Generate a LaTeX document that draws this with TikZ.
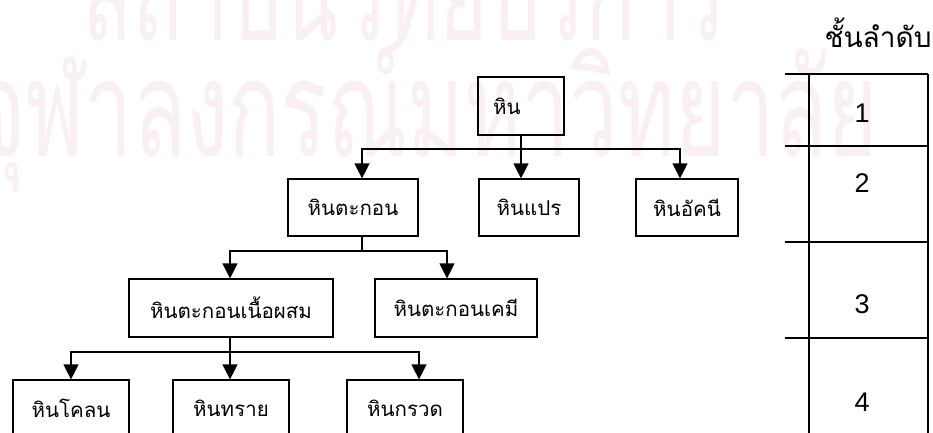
\documentclass[tikz,border=0pt]{standalone}
\usepackage{fontspec}
\setmainfont{Liberation Sans}
\newfontfamily\thai[Script=Thai]{Loma}
\usetikzlibrary{arrows.meta,calc}
\definecolor{wmark}{RGB}{249,239,244}
\begin{document}
\begin{tikzpicture}[x=1pt,y=-1pt,
  box/.style={draw=black,line width=1.2pt,minimum height=57pt,inner sep=0pt,
    font=\thai\fontsize{20.5}{22}\selectfont},
  link/.style={line width=1.2pt},
  arr/.style={link,-{Triangle[width=15pt,length=15pt]}},
  rule/.style={line width=1.6pt},
  num/.style={font=\fontsize{27}{30}\selectfont},
  wm/.style={text=wmark,inner sep=0pt,font=\thai\fontsize{120}{120}\selectfont}]
\useasboundingbox (0,0) rectangle (933,432);
% watermark
\node[wm,anchor=base west] (wm1) at (82,40) {\scalebox{0.69}[1.12]{สถาบันวิทยบริการ}};
\node[wm,anchor=base west] (wm2) at (-25,156) {\scalebox{0.72}[1.12]{จุฬาลงกรณ์มหาวิทยาลัย}};
% boxes
\node[box,minimum width=86pt,minimum height=58pt,text width=56pt,align=left] (rock) at (521,106) {หิน};
\node[box,minimum width=130pt] (sed) at (353,207.5) {หินตะกอน};
\node[box,minimum width=100pt] (meta) at (529,207.5) {หินแปร};
\node[box,minimum width=102pt] (ign) at (687,207.5) {หินอัคนี};
\node[box,minimum width=204pt,minimum height=58pt] (clas) at (231,308) {หินตะกอนเนื้อผสม};
\node[box,minimum width=162pt,minimum height=58pt] (chem) at (456,308) {หินตะกอนเคมี};
\node[box,minimum width=116pt] (mud) at (71,408.5) {หินโคลน};
\node[box,minimum width=116pt] (sand) at (231,408.5) {หินทราย};
\node[box,minimum width=116pt] (grav) at (405,408.5) {หินกรวด};
% connectors
\coordinate (b1) at (521,149);
\draw[link] (rock.south) -- (b1);
\draw[arr] (b1) -| ([xshift=9pt]sed.north);
\draw[arr] (b1) -- ([xshift=-8pt]meta.north);
\draw[arr] (b1) -| ([xshift=-7pt]ign.north);
\coordinate (b2) at (362,251);
\draw[link] ([xshift=9pt]sed.south) -- (b2);
\draw[arr] (b2) -| ([xshift=-1pt]clas.north);
\draw[arr] (b2) -| ([xshift=-9pt]chem.north);
\coordinate (b3) at (230,352);
\draw[link] ([xshift=-1pt]clas.south) -- (b3);
\draw[arr] (b3) -| (mud.north);
\draw[arr] (b3) -- ([xshift=-1pt]sand.north);
\draw[arr] (b3) -| ([xshift=14pt]grav.north);
% level table
\node[font=\thai\fontsize{28}{30}\selectfont,anchor=base,inner sep=0pt] (title) at (878,47) {ชั้นลำดับ};
\draw[rule] (785,74) -- (928,74);
\draw[rule] (785,146) -- (928,146);
\draw[rule] (785,242) -- (928,242);
\draw[rule] (785,338) -- (928,338);
\draw[rule] (809,74) -- (809,440);
\draw[rule] (928,74) -- (928,440);
\node[num] (n1) at (862,113) {1};
\node[num] (n2) at (862,183) {2};
\node[num] (n3) at (862,304) {3};
\node[num] (n4) at (862,402) {4};
\end{tikzpicture}
\end{document}
